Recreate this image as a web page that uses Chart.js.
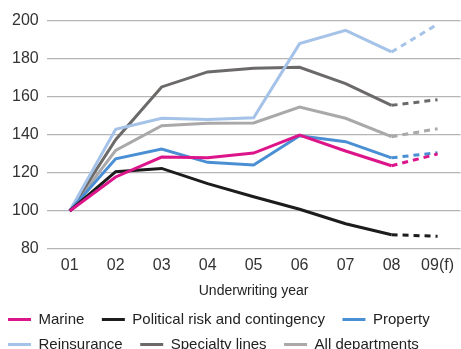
<!DOCTYPE html>
<html>
<head>
<meta charset="utf-8">
<script src="https://cdn.jsdelivr.net/npm/chart.js@4/dist/chart.umd.min.js"></script>
<style>
  html, body { margin: 0; padding: 0; background: #fff; overflow: hidden; }
  #wrap { width: 461px; height: 362px; }
</style>
</head>
<body>
<div id="wrap"><canvas id="line-chart" width="461" height="362"></canvas></div>
<script>
// underwriting years, last one is a forecast
var years = ["01", "02", "03", "04", "05", "06", "07", "08", "09(f)"];
var yTicks = [80, 100, 120, 140, 160, 180, 200];

var marine      = [100, 117.9, 128.4, 128.0, 130.5, 140.0, 131.6, 123.8, 130.0];
var political   = [100, 120.7, 122.4, 114.4, 107.5, 100.9, 93.3, 87.5, 86.7];
var property    = [100, 127.5, 132.6, 125.6, 124.2, 139.6, 136.5, 128.0, 130.7];
var reinsurance = [100, 143.0, 148.8, 148.1, 149.1, 188.1, 195.1, 183.7, 198.3];
var specialty   = [100, 137.5, 165.3, 173.2, 175.1, 175.6, 167.0, 155.6, 158.6];
var allDepts    = [100, 131.9, 144.9, 146.2, 146.3, 154.7, 148.8, 139.1, 143.3];

var font = "'Liberation Sans', Arial, sans-serif";

function makeSet(label, data, color) {
  return {
    label: label,
    data: data,
    borderColor: color,
    backgroundColor: color,
    borderWidth: 3,
    pointRadius: 0,
    tension: 0,
    fill: false,
    segment: {
      // forecast segment is dashed
      borderDash: function (ctx) { return ctx.p1DataIndex == years.length - 1 ? [6, 5] : undefined; }
    }
  };
}

// pull the legend a bit to the left, closer to the page edge
var legendShift = {
  id: 'legendShift',
  afterLayout: function (chart) {
    if (chart.legend) { chart.legend.left -= 6; }
  }
};

new Chart(document.getElementById("line-chart"), {
  type: 'line',
  data: {
    labels: years,
    datasets: [
      makeSet("Marine", marine, "#dc168a"),
      makeSet("Political risk and contingency", political, "#1c1c1c"),
      makeSet("Property", property, "#4a8fd3"),
      makeSet("Reinsurance", reinsurance, "#a5c2e8"),
      makeSet("Specialty lines", specialty, "#6c6969"),
      makeSet("All departments", allDepts, "#aaa8a8")
    ]
  },
  plugins: [legendShift],
  options: {
    responsive: false,
    animation: false,
    layout: { padding: { top: 21, left: 4, right: 0, bottom: 0 } },
    plugins: {
      title: { display: false },
      tooltip: { enabled: false },
      legend: {
        position: 'bottom',
        align: 'start',
        labels: {
          font: { family: font, size: 15 },
          color: "#222",
          boxWidth: 23,
          boxHeight: 3,
          padding: 10,
          generateLabels: function (chart) {
            var items = Chart.defaults.plugins.legend.labels.generateLabels(chart);
            items.forEach(function (it) { it.lineWidth = 0; it.lineDash = []; it.text = it.text + "\u2002"; });
            return items;
          }
        }
      }
    },
    scales: {
      x: {
        offset: true,
        grid: { display: false, drawTicks: false },
        border: { display: false },
        ticks: { font: { family: font, size: 16 }, color: "#333", padding: 7, maxRotation: 0 },
        title: { display: true, text: "Underwriting year", font: { family: font, size: 14 }, color: "#222", padding: { top: 1, bottom: 2 } }
      },
      y: {
        min: 80,
        max: 200,
        afterBuildTicks: function (axis) { axis.ticks = yTicks.map(function (v) { return { value: v }; }); },
        grid: { color: "#b5b5b5", lineWidth: 1.2, drawTicks: false },
        border: { display: false },
        ticks: { font: { family: font, size: 16 }, color: "#333", padding: 8 }
      }
    }
  }
});
</script>
</body>
</html>
